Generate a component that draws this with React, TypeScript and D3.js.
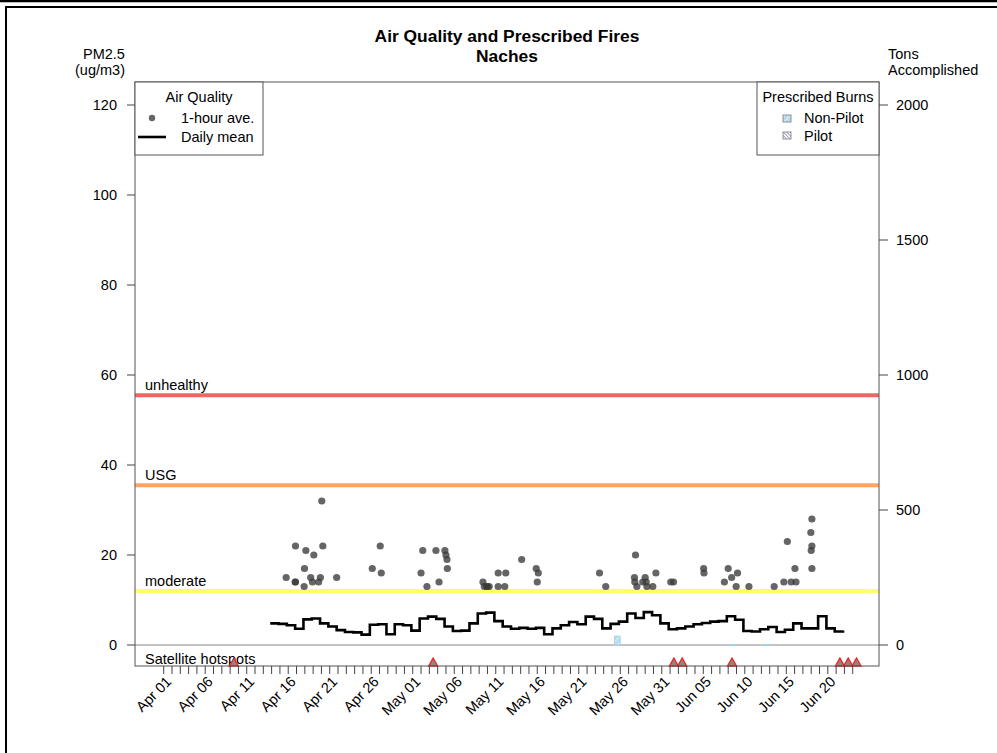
import React from 'react';
import * as d3 from 'd3';

// ---------- data ----------
const TITLE = ['Air Quality and Prescribed Fires', 'Naches'];
const LEFT_TICKS = [0, 20, 40, 60, 80, 100, 120];
const RIGHT_TICKS = [0, 500, 1000, 1500, 2000];
const X_LIMITS = ['2021-03-28T13', '2021-06-26T04'];
const TICK_START = '2021-04-01';
const TICK_END = '2021-06-24';

const THRESHOLD_NAMES = ['unhealthy', 'USG', 'moderate'];
const THRESHOLD_VALUES = [55.5, 35.5, 12];
const THRESHOLD_COLORS = ['#f26464', '#ffa366', '#ffff66'];

const HOURLY_TIMES = [
  '2021-04-15T18', '2021-04-16T21', '2021-04-16T20', '2021-04-16T21', '2021-04-17T23', '2021-04-17T22',
  '2021-04-18T03', '2021-04-18T17', '2021-04-18T22', '2021-04-19T02', '2021-04-19T16', '2021-04-19T21',
  '2021-04-20T01', '2021-04-20T04', '2021-04-21T20', '2021-04-26T03', '2021-04-27T02', '2021-04-27T05',
  '2021-05-02T00', '2021-05-02T05', '2021-05-02T17', '2021-05-03T19', '2021-05-04T04', '2021-05-04T21',
  '2021-05-05T00', '2021-05-05T03', '2021-05-05T04', '2021-05-09T11', '2021-05-09T15', '2021-05-09T22',
  '2021-05-10T00', '2021-05-10T05', '2021-05-11T07', '2021-05-11T07', '2021-05-12T02', '2021-05-12T05',
  '2021-05-14T03', '2021-05-15T21', '2021-05-16T03', '2021-05-16T00', '2021-05-23T12', '2021-05-24T06',
  '2021-05-27T20', '2021-05-27T17', '2021-05-27T18', '2021-05-28T00', '2021-05-28T17', '2021-05-29T00',
  '2021-05-29T03', '2021-05-29T05', '2021-05-29T22', '2021-05-30T07', '2021-06-01T02', '2021-06-01T10',
  '2021-06-05T01', '2021-06-05T02', '2021-06-07T13', '2021-06-08T00', '2021-06-08T10', '2021-06-08T23',
  '2021-06-09T03', '2021-06-10T12', '2021-06-13T13', '2021-06-14T17', '2021-06-15T03', '2021-06-15T14',
  '2021-06-16T01', '2021-06-16T04', '2021-06-17T23', '2021-06-18T00', '2021-06-18T02', '2021-06-18T02',
  '2021-06-18T02',
];
const HOURLY_VALUES = [
  15, 22, 14, 14, 17, 13,
  21, 15, 14, 20, 14, 15,
  32, 22, 15, 17, 22, 16,
  16, 21, 13, 21, 14, 21,
  20, 19, 17, 14, 13, 13,
  13, 13, 13, 16, 13, 16,
  19, 17, 16, 14, 16, 13,
  20, 15, 14, 13, 14, 15,
  14, 13, 13, 16, 14, 14,
  17, 16, 14, 17, 15, 13,
  16, 13, 13, 14, 23, 14,
  17, 14, 25, 21, 28, 22,
  17,
];

const DAILY_START = '2021-04-14';
const DAILY_SHIFT_HOURS = -4;
const DAILY_MEAN = [
  4.8, 4.7, 4.4, 3.6, 5.7, 5.9, 4.8, 4.1, 3.3, 2.9,
  2.8, 2.3, 4.5, 4.6, 2.4, 4.6, 4.4, 3.2, 5.9, 6.3,
  5.8, 4.1, 3.1, 3.2, 4.8, 7.0, 7.2, 5.3, 4.1, 3.6,
  3.8, 3.6, 3.8, 2.4, 3.7, 4.4, 5.1, 4.6, 6.3, 5.8,
  3.7, 4.7, 5.2, 7.0, 6.0, 7.3, 6.6, 4.8, 3.5, 3.7,
  4.1, 4.6, 4.9, 5.2, 5.3, 6.4, 5.6, 3.1, 3.0, 3.5,
  4.0, 2.9, 3.4, 4.8, 3.7, 3.7, 6.4, 3.7, 3.0, 3.2,
];

const HOTSPOT_DATES = [
  '2021-04-09T11', '2021-05-03T11', '2021-06-01T11', '2021-06-02T11',
  '2021-06-08T11', '2021-06-21T11', '2021-06-22T11', '2021-06-23T11',
];

const NONPILOT_DATES = ['2021-05-25', '2021-06-08', '2021-06-12'];
const NONPILOT_TONS = [33, 1.5, 1.5];
const PILOT_DATES: string[] = [];
const PILOT_TONS: number[] = [];

// ---------- layout ----------
const W = 997;
const H = 753;
const L = 135;
const R = 879;
const TOP = 82;
const BOT = 666;
const Y0 = 645;
const Y120 = 105;
const FONT = 'Liberation Sans, Arial, Helvetica, sans-serif';
const FS = 14.5;

export default function App() {
  const pH = d3.utcParse('%Y-%m-%dT%H');
  const pD = d3.utcParse('%Y-%m-%d');
  const x = d3.scaleUtc().domain(X_LIMITS.map((s) => pH(s) as Date)).range([L, R]);
  const y = d3.scaleLinear().domain([0, 120]).range([Y0, Y120]);
  const yR = d3.scaleLinear().domain([0, 2000]).range([Y0, Y120]);

  const days = d3.utcDay.range(pD(TICK_START) as Date, pD(TICK_END) as Date);
  const fmt = d3.utcFormat('%b %d');

  const dailyStart = pD(DAILY_START) as Date;
  const daily = DAILY_MEAN.map((v, i) => ({
    t: d3.utcHour.offset(d3.utcDay.offset(dailyStart, i), DAILY_SHIFT_HOURS),
    v,
  }));
  const stepLine = d3
    .line<{ t: Date; v: number }>()
    .x((d) => x(d.t))
    .y((d) => y(d.v))
    .curve(d3.curveStepAfter);

  const pts = HOURLY_TIMES.map((t, i) => ({ t: pH(t) as Date, v: HOURLY_VALUES[i] }));

  const burns = (dates: string[], tons: number[]) =>
    dates.map((d, i) => {
      const t = pD(d) as Date;
      const x0 = x(d3.utcHour.offset(t, 7));
      const x1 = x(d3.utcDay.offset(t, 1));
      return { x0, x1, y1: yR(tons[i]) };
    });
  const np = burns(NONPILOT_DATES, NONPILOT_TONS);
  const pl = burns(PILOT_DATES, PILOT_TONS);

  const tri = (cx: number) => `M${cx - 4.5},${BOT} L${cx},${BOT - 8} L${cx + 4.5},${BOT} Z`;

  return (
    <svg
      width={W}
      height={H}
      style={{ position: 'absolute', left: 0, top: 0, background: '#fff' }}
      fontFamily={FONT}
    >
      <defs>
        <pattern id="np" patternUnits="userSpaceOnUse" width="4" height="4" patternTransform="rotate(45)">
          <rect width="4" height="4" fill="#b9dcec" />
          <line x1="0" y1="0" x2="0" y2="4" stroke="#e6f3f9" strokeWidth="1.5" />
        </pattern>
        <pattern id="pl" patternUnits="userSpaceOnUse" width="2.5" height="2.5" patternTransform="rotate(-45)">
          <rect width="2.5" height="2.5" fill="#ffffff" />
          <line x1="0" y1="0" x2="0" y2="2.5" stroke="#4b4b8f" strokeWidth="1" />
        </pattern>
      </defs>
      <rect width={W} height={H} fill="#fff" />
      {/* page frame */}
      <line x1={0} x2={W} y1={1} y2={1} stroke="#000" strokeWidth={2.5} />
      <rect x={6} y={7} width={W + 10} height={H + 10} fill="none" stroke="#000" strokeWidth={2} />

      {/* titles */}
      <text x={(L + R) / 2} y={42} textAnchor="middle" fontWeight="bold" fontSize={17.4}>
        {TITLE[0]}
      </text>
      <text x={(L + R) / 2} y={62} textAnchor="middle" fontWeight="bold" fontSize={17.4}>
        {TITLE[1]}
      </text>
      <text x={104} y={59} textAnchor="middle" fontSize={FS}>PM2.5</text>
      <text x={100} y={75} textAnchor="middle" fontSize={FS}>(ug/m3)</text>
      <text x={888} y={59} fontSize={FS}>Tons</text>
      <text x={888} y={75} fontSize={FS}>Accomplished</text>

      {/* threshold lines */}
      {THRESHOLD_VALUES.map((v, i) => (
        <g key={THRESHOLD_NAMES[i]}>
          <line x1={L} x2={R} y1={y(v)} y2={y(v)} stroke={THRESHOLD_COLORS[i]} strokeWidth={4} />
          <text x={L + 10} y={y(v) - 5} fontSize={FS}>
            {THRESHOLD_NAMES[i]}
          </text>
        </g>
      ))}

      {/* zero line */}
      <line x1={L} x2={R} y1={Y0} y2={Y0} stroke="#888" strokeWidth={1} />

      {/* burns */}
      {np.map((b, i) => (
        <rect key={'np' + i} x={b.x0} y={b.y1} width={b.x1 - b.x0} height={Math.max(Y0 - b.y1, 0.8)}
          fill="url(#np)" stroke="#9fd0e6" strokeWidth={0.8} />
      ))}
      {pl.map((b, i) => (
        <rect key={'pl' + i} x={b.x0} y={b.y1} width={b.x1 - b.x0} height={Y0 - b.y1}
          fill="url(#pl)" stroke="#777" strokeWidth={0.8} />
      ))}

      {/* hourly points */}
      {pts.map((p, i) => (
        <circle key={i} cx={x(p.t)} cy={y(p.v)} r={3.6} fill="#3a3a3a" fillOpacity={0.78} />
      ))}

      {/* daily mean */}
      <path d={stepLine(daily) || ''} fill="none" stroke="#000" strokeWidth={2.6} strokeLinejoin="miter" />

      {/* satellite hotspots */}
      <text x={L + 10} y={BOT - 2} fontSize={FS}>Satellite hotspots</text>
      {HOTSPOT_DATES.map((d, i) => (
        <path key={i} d={tri(x(pH(d) as Date))} fill="#888" stroke="#ff1a1a" strokeWidth={1.3} strokeLinejoin="miter" />
      ))}

      {/* plot box */}
      <rect x={L} y={TOP} width={R - L} height={BOT - TOP} fill="none" stroke="#555" strokeWidth={1} />

      {/* left axis */}
      {LEFT_TICKS.map((t) => (
        <g key={'l' + t}>
          <line x1={L - 8} x2={L} y1={y(t)} y2={y(t)} stroke="#444" />
          <text x={117} y={y(t)} dy="0.35em" textAnchor="end" fontSize={FS}>
            {t}
          </text>
        </g>
      ))}
      {/* right axis */}
      {RIGHT_TICKS.map((t) => (
        <g key={'r' + t}>
          <line x1={R} x2={R + 9} y1={yR(t)} y2={yR(t)} stroke="#444" />
          <text x={896} y={yR(t)} dy="0.35em" textAnchor="start" fontSize={FS}>
            {t}
          </text>
        </g>
      ))}

      {/* x axis */}
      {days.map((d, i) => (
        <g key={'x' + i}>
          <line x1={x(d)} x2={x(d)} y1={BOT} y2={BOT + 8} stroke="#444" />
          {i % 5 === 0 ? (
            <text
              transform={`translate(${x(d) + 5},${BOT + 13}) rotate(-45)`}
              textAnchor="end"
              dy="0.35em"
              fontSize={FS}
            >
              {fmt(d)}
            </text>
          ) : null}
        </g>
      ))}

      {/* left legend */}
      <rect x={L} y={TOP} width={128} height={73} fill="#fff" stroke="#555" />
      <text x={L + 64} y={102} textAnchor="middle" fontSize={FS}>Air Quality</text>
      <circle cx={152} cy={118} r={3.2} fill="#3a3a3a" fillOpacity={0.78} />
      <text x={181} y={123} fontSize={FS}>1-hour ave.</text>
      <line x1={138} x2={166} y1={137} y2={137} stroke="#000" strokeWidth={2.6} />
      <text x={181} y={142} fontSize={FS}>Daily mean</text>

      {/* right legend */}
      <rect x={757} y={TOP} width={R - 757} height={73} fill="#fff" stroke="#555" />
      <text x={818} y={102} textAnchor="middle" fontSize={FS}>Prescribed Burns</text>
      <rect x={783} y={115} width={8} height={7} fill="url(#np)" stroke="#777" strokeWidth={0.8} />
      <text x={804} y={123} fontSize={FS}>Non-Pilot</text>
      <rect x={783} y={132} width={8} height={7} fill="url(#pl)" stroke="#777" strokeWidth={0.8} />
      <text x={804} y={141} fontSize={FS}>Pilot</text>
    </svg>
  );
}
